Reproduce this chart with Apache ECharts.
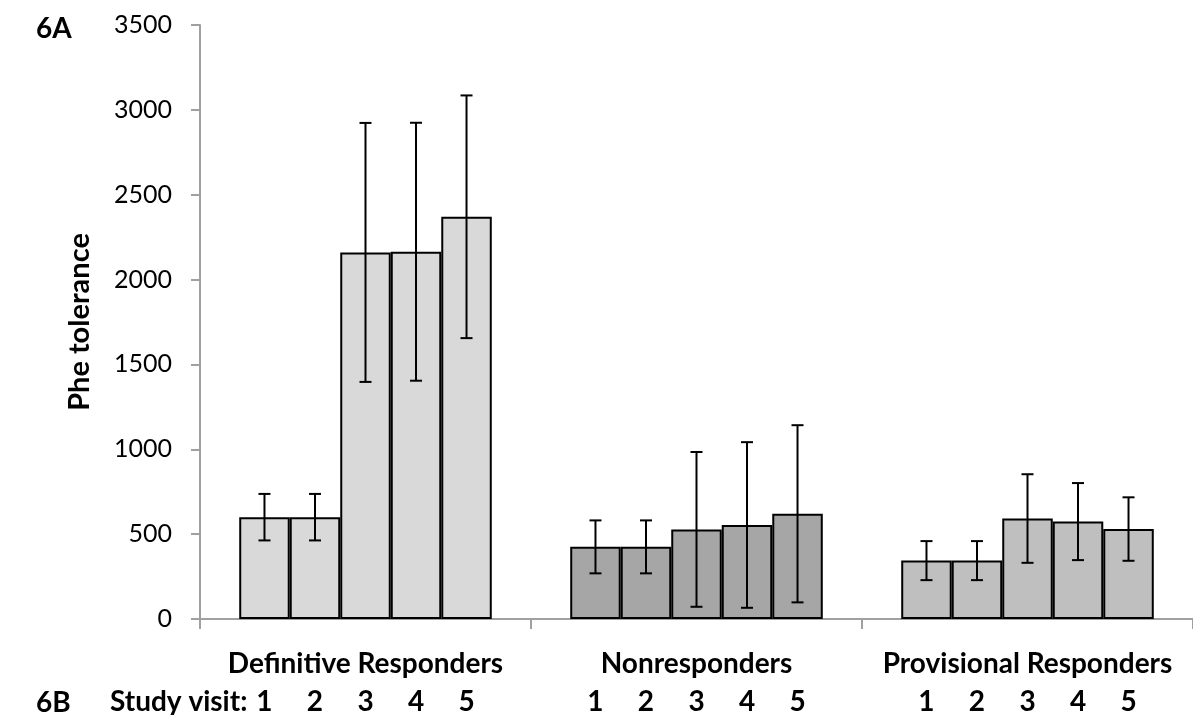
<!DOCTYPE html>
<html>
<head>
<meta charset="utf-8">
<script src="https://cdn.jsdelivr.net/npm/echarts@6/dist/echarts.min.js"></script>
<style>
html,body{margin:0;padding:0;background:#fff;}
#chart{width:1193px;height:715px;}
</style>
</head>
<body>
<div id="chart"></div>
<script>
const groups = ['Definitive Responders', 'Nonresponders', 'Provisional Responders'];
const visits = ['1', '2', '3', '4', '5'];
const yTicks = [0, 500, 1000, 1500, 2000, 2500, 3000, 3500];

const definitiveMeans = [600, 600, 2160, 2164, 2370];
const definitiveErr = [137, 137, 763, 760, 715];
const nonMeans = [425, 425, 528, 554, 620];
const nonErr = [156, 156, 456, 488, 522];
const provisionalMeans = [344, 344, 592, 574, 530];
const provisionalErr = [115, 115, 261, 227, 187];

const groupColors = ['#d9d9d9', '#a6a6a6', '#bfbfbf'];

const means = [definitiveMeans, nonMeans, provisionalMeans];
const errs = [definitiveErr, nonErr, provisionalErr];

const FONT = 'Lato';
const BOLD_SIZE = 28;
const CAT_GAP = 0.237;

const barSeries = visits.map((v, vi) => ({
  type: 'bar',
  name: 'Visit ' + v,
  barGap: '0%',
  barCategoryGap: (CAT_GAP * 100) + '%',
  data: groups.map((g, gi) => ({
    value: means[gi][vi],
    itemStyle: { color: groupColors[gi] }
  })),
  itemStyle: { borderColor: '#000', borderWidth: 2 },
  label: {
    show: true,
    position: 'bottom',
    distance: 69,
    formatter: () => v,
    fontFamily: FONT,
    fontWeight: 'bold',
    fontSize: BOLD_SIZE,
    color: '#000'
  },
  emphasis: { disabled: true },
  z: 2
}));

const errData = [];
groups.forEach((g, gi) => {
  visits.forEach((v, vi) => {
    errData.push([gi, vi, means[gi][vi] - errs[gi][vi], means[gi][vi] + errs[gi][vi]]);
  });
});

const errSeries = {
  type: 'custom',
  data: errData,
  encode: { x: 0, y: [2, 3] },
  z: 5,
  silent: true,
  renderItem: function (params, api) {
    const gi = api.value(0);
    const vi = api.value(1);
    const lowP = api.coord([gi, api.value(2)]);
    const highP = api.coord([gi, api.value(3)]);
    const bandW = api.size([1, 0])[0];
    const barW = bandW * (1 - CAT_GAP) / visits.length;
    const x = lowP[0] + (vi - (visits.length - 1) / 2) * barW;
    const cap = 6;
    const style = { stroke: '#000', lineWidth: 2, fill: null };
    return {
      type: 'group',
      children: [
        { type: 'line', shape: { x1: x, y1: highP[1], x2: x, y2: lowP[1] }, style: style },
        { type: 'line', shape: { x1: x - cap, y1: highP[1], x2: x + cap, y2: highP[1] }, style: style },
        { type: 'line', shape: { x1: x - cap, y1: lowP[1], x2: x + cap, y2: lowP[1] }, style: style }
      ]
    };
  }
};

const chart = echarts.init(document.getElementById('chart'));
chart.setOption({
  animation: false,
  backgroundColor: '#fff',
  grid: { left: 200, right: 0, top: 25, bottom: 96, containLabel: false },
  xAxis: {
    type: 'category',
    data: groups,
    axisLine: { show: true, lineStyle: { color: '#a0a0a0', width: 2 } },
    axisTick: { show: true, length: 10, lineStyle: { color: '#a0a0a0', width: 2 } },
    axisLabel: { interval: 0, hideOverlap: false, margin: 31, fontFamily: FONT, fontWeight: 'bold', fontSize: BOLD_SIZE, color: '#000' }
  },
  yAxis: {
    type: 'value',
    min: yTicks[0],
    max: yTicks[yTicks.length - 1],
    interval: 500,
    name: 'Phe tolerance',
    nameLocation: 'middle',
    nameGap: 106,
    nameTextStyle: { fontFamily: FONT, fontWeight: 'bold', fontSize: 29, color: '#000' },
    axisLine: { show: true, lineStyle: { color: '#a0a0a0', width: 2 } },
    axisTick: { show: true, length: 9, lineStyle: { color: '#a0a0a0', width: 2 } },
    axisLabel: { margin: 28, fontFamily: FONT, fontSize: 25, color: '#000', formatter: (val) => String(val) },
    splitLine: { show: false }
  },
  graphic: [
    { type: 'text', left: 36, top: 15, style: { text: '6A', font: 'bold 28px Lato', fill: '#000' } },
    { type: 'text', left: 36, top: 689, style: { text: '6B', font: 'bold 28px Lato', fill: '#000' } },
    { type: 'text', left: 110, top: 688, style: { text: 'Study visit:', font: 'bold 28px Lato', fill: '#000' } }
  ],
  series: barSeries.concat([errSeries])
});
</script>
</body>
</html>
